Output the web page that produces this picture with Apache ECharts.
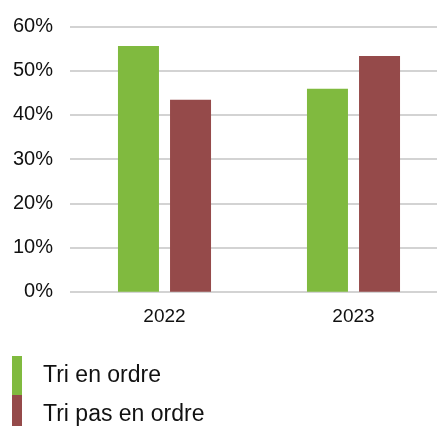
<!DOCTYPE html>
<html><head><meta charset="utf-8">
<script src="https://cdn.jsdelivr.net/npm/echarts@6/dist/echarts.min.js"></script>
<style>html,body{margin:0;padding:0;background:#fff}#c{width:437px;height:426px}</style>
</head><body><div id="c"></div>
<script>
const categories = ['2022', '2023'];
const seriesNames = ['Tri en ordre', 'Tri pas en ordre'];
const triEnOrdre = [55.6, 45.9];
const triPasEnOrdre = [43.4, 53.3];
const yTicks = [0, 10, 20, 30, 40, 50, 60];

const chart = echarts.init(document.getElementById('c'), null, {renderer: 'canvas'});
const font = '"Liberation Sans", Arial, sans-serif';
const legendBase = {
  orient: 'vertical', left: 12, itemWidth: 10, itemHeight: 39, itemGap: 0,
  icon: 'rect', padding: 0,
  textStyle: {fontFamily: font, fontSize: 23, color: '#111', padding: [0, 0, 0, 16]}
};
chart.setOption({
  animation: false,
  grid: {left: 70, width: 378, top: 26.5, height: 265.2, containLabel: false, outerBoundsMode: 'none'},
  legend: [
    Object.assign({}, legendBase, {top: 356, data: [seriesNames[0]]}),
    Object.assign({}, legendBase, {top: 395, data: [seriesNames[1]]})
  ],
  xAxis: {
    type: 'category', data: categories,
    axisLine: {show: false}, axisTick: {show: false},
    axisLabel: {fontFamily: font, fontSize: 19, color: '#111', margin: 16}
  },
  yAxis: {
    type: 'value', min: yTicks[0], max: yTicks[yTicks.length - 1], interval: 10,
    axisLine: {show: false}, axisTick: {show: false},
    axisLabel: {fontFamily: font, fontSize: 20, color: '#111', margin: 17, formatter: v => v + '%'},
    splitLine: {lineStyle: {color: '#d3d3d3', width: 2}}
  },
  series: [
    {name: seriesNames[0], type: 'bar', data: triEnOrdre, barWidth: 41, barGap: '27%', itemStyle: {color: '#80BA3F'}},
    {name: seriesNames[1], type: 'bar', data: triPasEnOrdre, barWidth: 41, itemStyle: {color: '#954A4A'}}
  ]
});
</script></body></html>
